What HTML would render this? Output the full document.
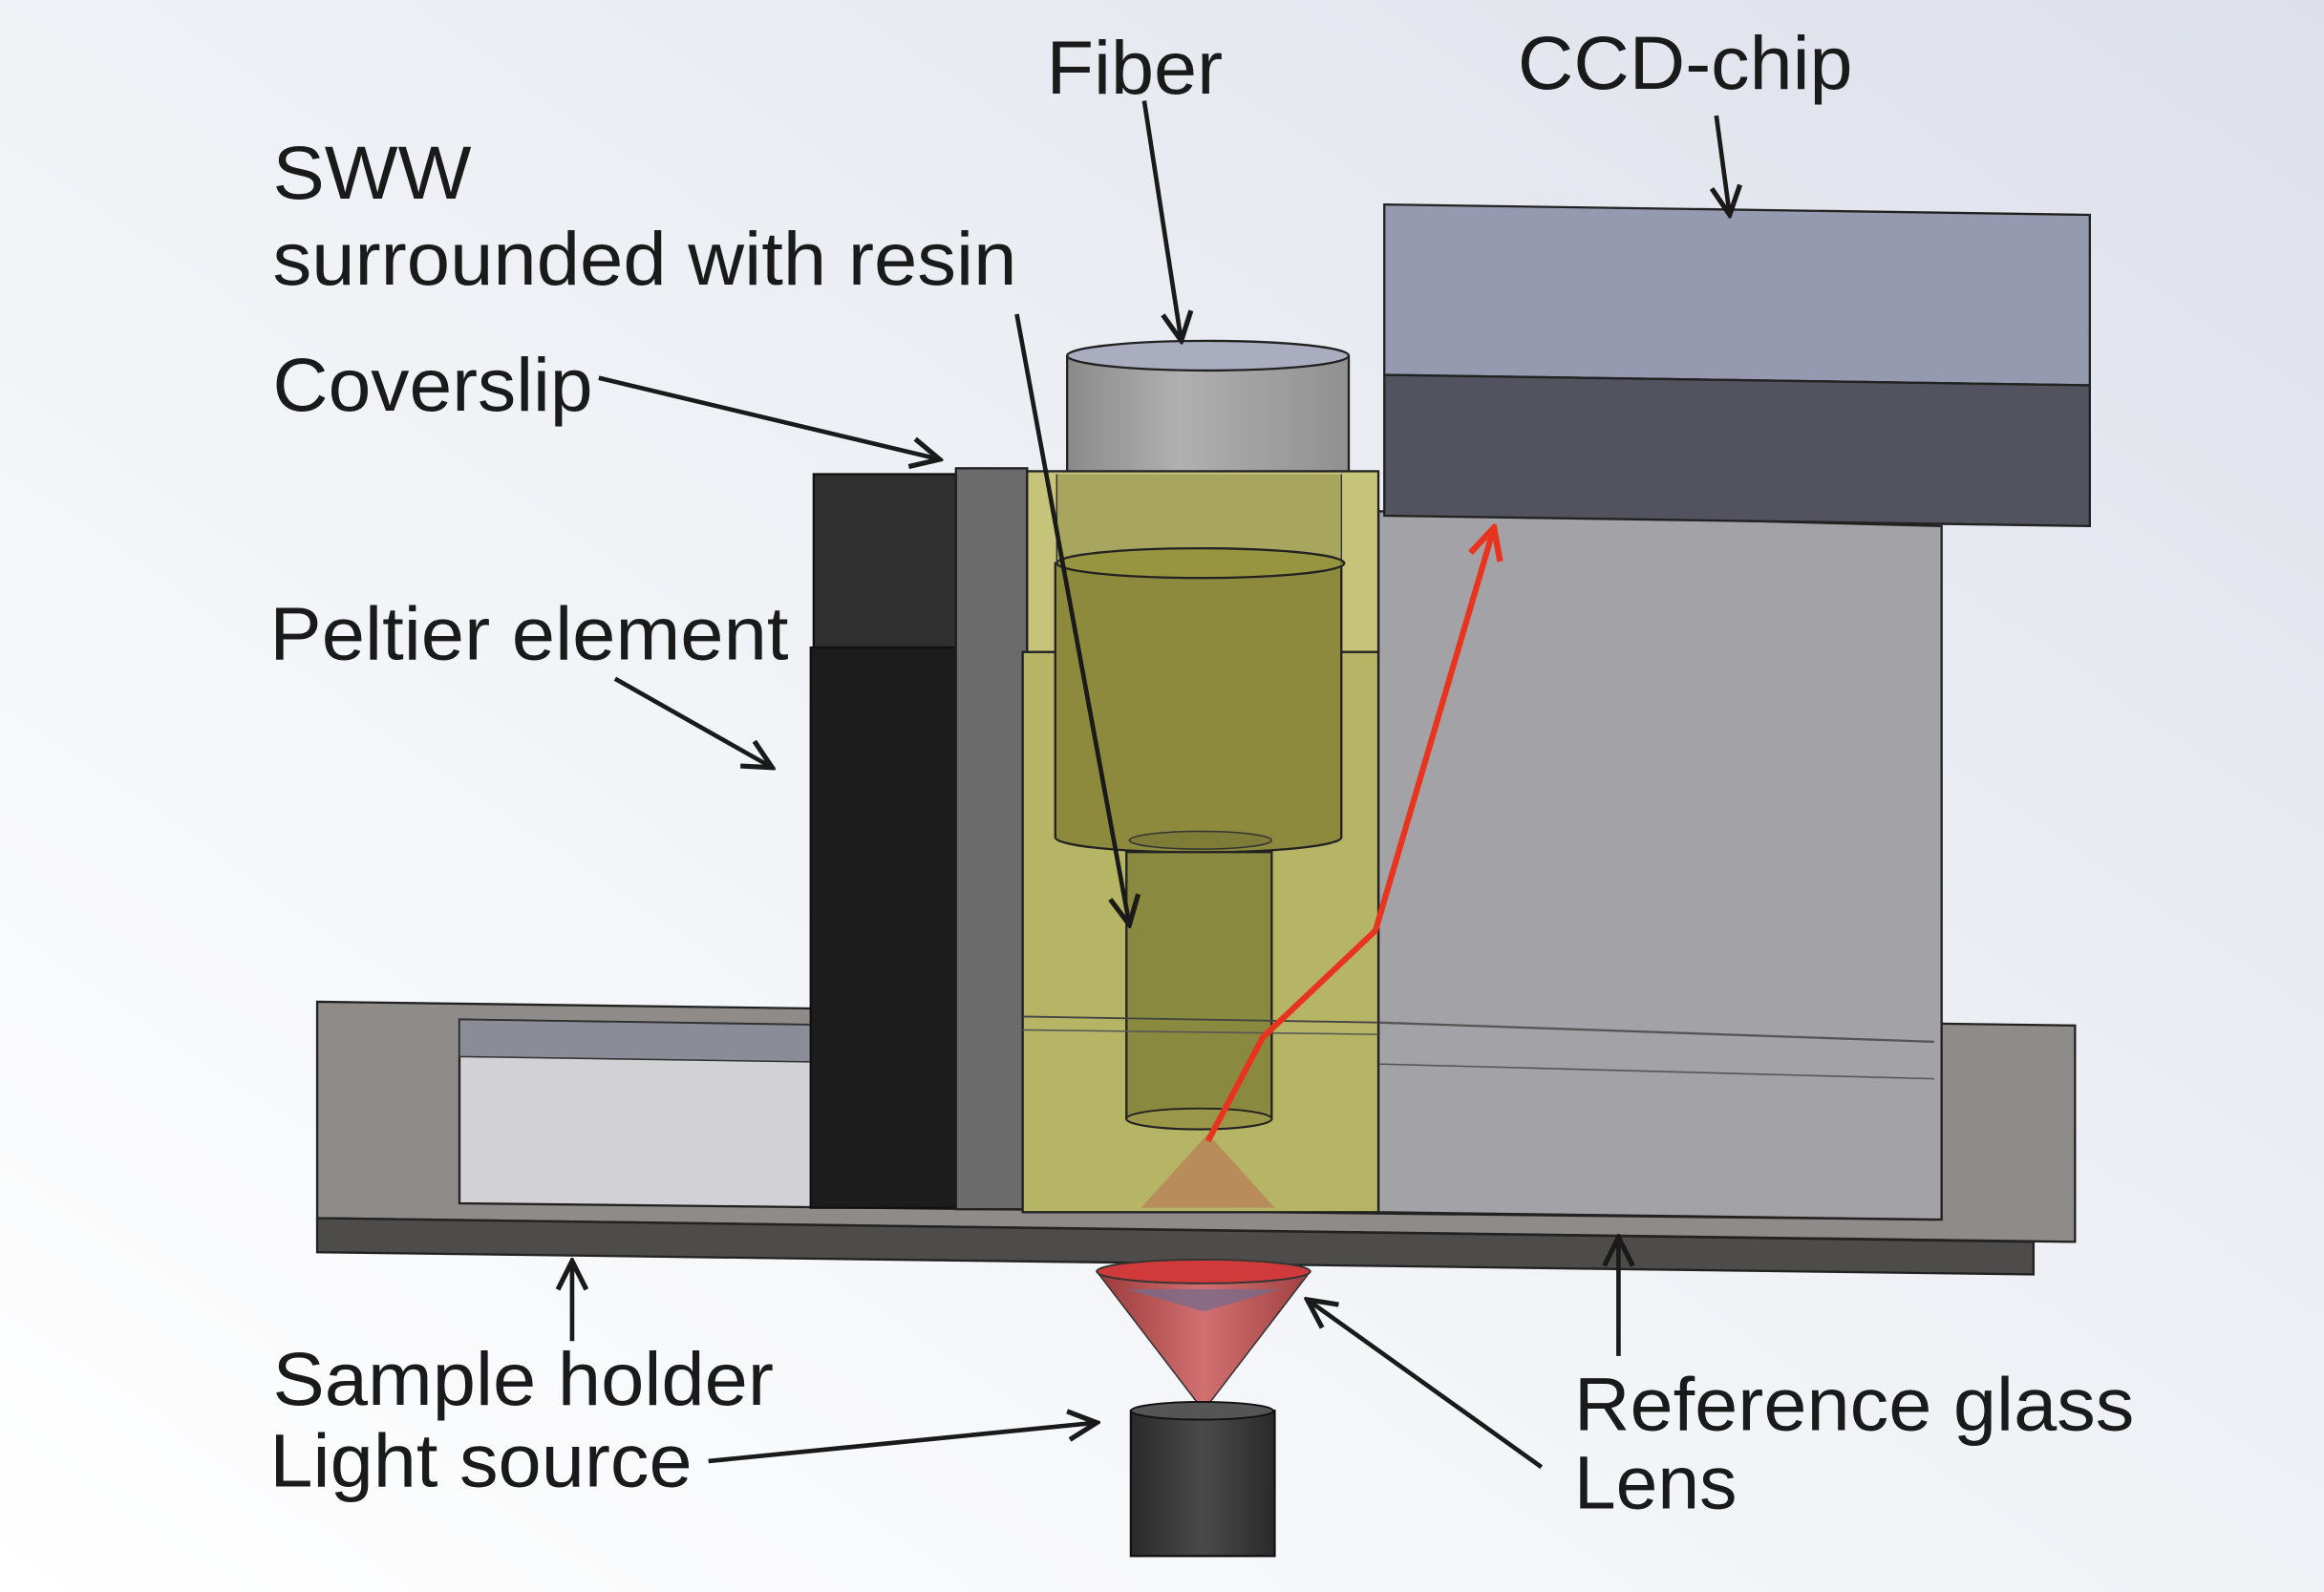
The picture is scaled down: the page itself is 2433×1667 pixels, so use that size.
<!DOCTYPE html>
<html><head><meta charset="utf-8"><style>
html,body{margin:0;padding:0;background:#fff}
svg{display:block}
text{font-family:"Liberation Sans",Arial,sans-serif;font-size:51px;fill:#1a1a1a}
</style></head><body>
<svg width="2433" height="1667" viewBox="0 0 1568 1074.3" preserveAspectRatio="none" xmlns="http://www.w3.org/2000/svg">
<defs>
<linearGradient id="bg" x1="0" y1="1" x2="1" y2="0">
<stop offset="0" stop-color="#ffffff"/><stop offset="0.55" stop-color="#eef0f5"/><stop offset="1" stop-color="#dde0ea"/>
</linearGradient>
<linearGradient id="cyl" x1="0" y1="0" x2="1" y2="0">
<stop offset="0" stop-color="#8a8a8a"/><stop offset="0.4" stop-color="#b0b0b0"/><stop offset="1" stop-color="#909090"/>
</linearGradient>
<linearGradient id="cone" x1="0" y1="0" x2="1" y2="0">
<stop offset="0" stop-color="#9a3a3a"/><stop offset="0.5" stop-color="#d07070"/><stop offset="1" stop-color="#a04040"/>
</linearGradient>
<linearGradient id="ls" x1="0" y1="0" x2="1" y2="0">
<stop offset="0" stop-color="#2a2a2a"/><stop offset="0.5" stop-color="#4a4a4a"/><stop offset="1" stop-color="#2a2a2a"/>
</linearGradient>
<marker id="ar2" viewBox="0 0 10 10" refX="9" refY="5" markerWidth="24" markerHeight="24" orient="auto" markerUnits="userSpaceOnUse">
<path d="M1,1 L9,5 L1,9" fill="none" stroke="#1a1a1a" stroke-width="1.4"/>
</marker>
<marker id="ar3" viewBox="0 0 10 10" refX="9" refY="5" markerWidth="26" markerHeight="26" orient="auto" markerUnits="userSpaceOnUse">
<path d="M1,1 L9,5 L1,9" fill="none" stroke="#e8341e" stroke-width="1.6"/>
</marker>
</defs>
<rect x="0" y="0" width="1568" height="1075" fill="url(#bg)"/>

<polygon points="214,676 1400,692 1400,838 214,822" fill="#8e8b89" stroke="#222" stroke-width="1.5"/>
<polygon points="214,822 1372,838 1372,860 214,845" fill="#4e4c4b" stroke="#222" stroke-width="1.5"/>
<polygon points="310,688 1305,703 1305,823 310,812" fill="#d2d2d6" stroke="#222" stroke-width="1.5"/>
<polygon points="310,688 1305,703 1305,728 310,713" fill="#8a8c98" stroke="#333" stroke-width="1"/>

<polygon points="930,345 1310,355 1310,823 930,818" fill="#a3a3a7" stroke="#222" stroke-width="1.5"/>
<line x1="930" y1="690" x2="1305" y2="703" stroke="#555" stroke-width="1.5"/>
<line x1="930" y1="718" x2="1305" y2="728" stroke="#555" stroke-width="1"/>

<polygon points="934,138 1410,145 1410,260 934,253" fill="#969ab1" stroke="#222" stroke-width="1.5"/>
<polygon points="934,253 1410,260 1410,355 934,348" fill="#52535f" stroke="#222" stroke-width="1.5"/>

<rect x="549" y="320" width="96" height="117" fill="#2f2f2f" stroke="#111" stroke-width="1.5"/>
<rect x="547" y="437" width="98" height="378" fill="#1c1c1c" stroke="#111" stroke-width="1.5"/>
<rect x="645" y="316" width="48" height="500" fill="#6b6b6b" stroke="#222" stroke-width="1.5"/>

<rect x="720" y="240" width="190" height="80" fill="url(#cyl)"/>
<ellipse cx="815" cy="240" rx="95" ry="10" fill="#a9adbf" stroke="#222" stroke-width="1.5"/>
<line x1="720" y1="240" x2="720" y2="320" stroke="#222" stroke-width="1.5"/>
<line x1="910" y1="240" x2="910" y2="320" stroke="#222" stroke-width="1.5"/>

<rect x="693" y="318" width="237" height="122" fill="#c6c47a" stroke="#222" stroke-width="1.5"/>
<rect x="690" y="440" width="240" height="378" fill="#b6b465" stroke="#222" stroke-width="1.5"/>
<path d="M712,380 L712,565 A95,10 0 0 0 905,565 L905,380 Z" fill="#8d8a3e" stroke="#222" stroke-width="1.5"/>
<rect x="713" y="320" width="191" height="60" fill="#a8a65e"/>
<ellipse cx="810" cy="380" rx="97" ry="10" fill="#97953f" stroke="#222" stroke-width="1.5"/>
<line x1="713" y1="320" x2="713" y2="380" stroke="#333" stroke-width="1"/>
<line x1="905" y1="320" x2="905" y2="380" stroke="#333" stroke-width="1"/>
<ellipse cx="810" cy="567" rx="48" ry="6" fill="#7e7c36" stroke="#333" stroke-width="1"/>
<path d="M760,575 L760,755 A49,7 0 0 0 858,755 L858,575 Z" fill="#8a8940" stroke="#222" stroke-width="1.5"/>
<ellipse cx="809" cy="755" rx="49" ry="7" fill="#9a9848" stroke="#222" stroke-width="1.2"/>
<line x1="690" y1="686" x2="930" y2="690" stroke="#444" stroke-width="1.2"/>
<line x1="690" y1="695" x2="930" y2="698" stroke="#555" stroke-width="1"/>
<polygon points="770,815 860,815 815,765" fill="#b98c5c"/>

<polygon points="740,858 884,858 812,952" fill="url(#cone)" stroke="#333" stroke-width="1"/>
<ellipse cx="812" cy="858" rx="72" ry="8" fill="#d03a3a" stroke="#333" stroke-width="1.2"/>
<polygon points="760,870 864,870 812,885" fill="#7a6a8a" opacity="0.8"/>
<rect x="763" y="952" width="97" height="98" fill="url(#ls)" stroke="#111" stroke-width="1.5"/>
<ellipse cx="811" cy="952" rx="48" ry="6" fill="#555" stroke="#111" stroke-width="1.2"/>

<polyline points="815,770 852,700 928,628 1008,356" fill="none" stroke="#e8341e" stroke-width="4" marker-end="url(#ar3)"/>

<g stroke="#1a1a1a" stroke-width="3" fill="none">
<line x1="772" y1="68" x2="797" y2="230" marker-end="url(#ar2)"/>
<line x1="1158" y1="78" x2="1167" y2="145" marker-end="url(#ar2)"/>
<line x1="686" y1="212" x2="762" y2="624" marker-end="url(#ar2)"/>
<line x1="404" y1="255" x2="634" y2="310" marker-end="url(#ar2)"/>
<line x1="415" y1="458" x2="521" y2="518" marker-end="url(#ar2)"/>
<line x1="386" y1="905" x2="386" y2="851" marker-end="url(#ar2)"/>
<line x1="478" y1="986" x2="740" y2="960" marker-end="url(#ar2)"/>
<line x1="1092" y1="915" x2="1092" y2="835" marker-end="url(#ar2)"/>
<line x1="1040" y1="990" x2="882" y2="877" marker-end="url(#ar2)"/>
</g>

<text x="706" y="63" textLength="119" lengthAdjust="spacingAndGlyphs">Fiber</text>
<text x="1024" y="60" textLength="226" lengthAdjust="spacingAndGlyphs">CCD-chip</text>
<text x="184" y="134" textLength="134" lengthAdjust="spacingAndGlyphs">SWW</text>
<text x="184" y="192" textLength="502" lengthAdjust="spacingAndGlyphs">surrounded with resin</text>
<text x="184" y="277" textLength="216" lengthAdjust="spacingAndGlyphs">Coverslip</text>
<text x="182" y="445" textLength="350" lengthAdjust="spacingAndGlyphs">Peltier element</text>
<text x="184" y="948" textLength="338" lengthAdjust="spacingAndGlyphs">Sample holder</text>
<text x="182" y="1003" textLength="285" lengthAdjust="spacingAndGlyphs">Light source</text>
<text x="1062" y="965" textLength="378" lengthAdjust="spacingAndGlyphs">Reference glass</text>
<text x="1062" y="1018" textLength="110" lengthAdjust="spacingAndGlyphs">Lens</text>
</svg>
</body></html>
